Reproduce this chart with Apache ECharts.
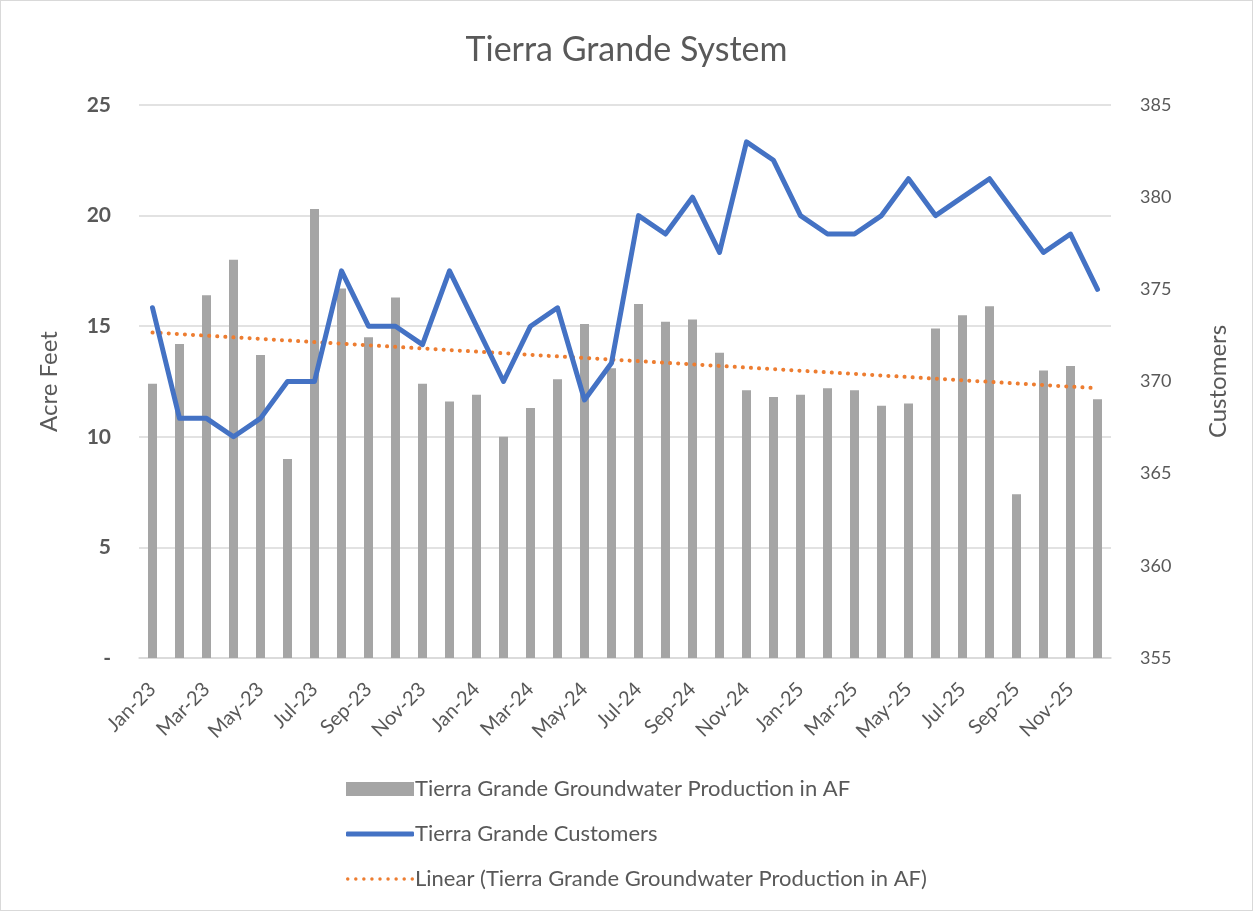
<!DOCTYPE html>
<html>
<head>
<meta charset="utf-8">
<script src="https://cdn.jsdelivr.net/npm/echarts@6/dist/echarts.min.js"></script>
<style>
  html, body { margin: 0; padding: 0; background: #fff; }
  #chart { width: 1251px; height: 909px; border: 1px solid #d9d9d9; }
</style>
</head>
<body>
<div id="chart"></div>
<script>
// months Jan-23 .. Dec-25
var months = [
  'Jan-23','Feb-23','Mar-23','Apr-23','May-23','Jun-23','Jul-23','Aug-23','Sep-23','Oct-23','Nov-23','Dec-23',
  'Jan-24','Feb-24','Mar-24','Apr-24','May-24','Jun-24','Jul-24','Aug-24','Sep-24','Oct-24','Nov-24','Dec-24',
  'Jan-25','Feb-25','Mar-25','Apr-25','May-25','Jun-25','Jul-25','Aug-25','Sep-25','Oct-25','Nov-25','Dec-25'
];

// groundwater production (acre feet)
var production = [
  12.4, 14.2, 16.4, 18.0, 13.7, 9.0, 20.3, 16.7, 14.5, 16.3, 12.4, 11.6,
  11.9, 10.0, 11.3, 12.6, 15.1, 13.1, 16.0, 15.2, 15.3, 13.8, 12.1, 11.8,
  11.9, 12.2, 12.1, 11.4, 11.5, 14.9, 15.5, 15.9, 7.4, 13.0, 13.2, 11.7
];

// customers
var customers = [
  374, 368, 368, 367, 368, 370, 370, 376, 373, 373, 372, 376,
  373, 370, 373, 374, 369, 371, 379, 378, 380, 377, 383, 382,
  379, 378, 378, 379, 381, 379, 380, 381, 379, 377, 378, 375
];

var leftTicks = [0, 5, 10, 15, 20, 25];
var rightTicks = [355, 360, 365, 370, 375, 380, 385];

var barName = 'Tierra Grande Groundwater Production in AF';
var custName = 'Tierra Grande Customers';
var trendName = 'Linear (Tierra Grande Groundwater Production in AF)';

// least squares trend of production, like Excel's linear trendline
function linearTrend(vals) {
  var n = vals.length, sx = 0, sy = 0, sxy = 0, sxx = 0;
  for (var i = 0; i < n; i++) {
    var x = i + 1;
    sx += x; sy += vals[i]; sxy += x * vals[i]; sxx += x * x;
  }
  var slope = (n * sxy - sx * sy) / (n * sxx - sx * sx);
  var icpt = (sy - slope * sx) / n;
  return vals.map(function (v, i) { return +(icpt + slope * (i + 1)).toFixed(3); });
}
var trend = linearTrend(production);

// dotted legend icon: a row of small dots
function dotsIcon(count, step, r) {
  var p = '';
  for (var i = 0; i < count; i++) {
    var cx = r + i * step;
    p += 'M' + (cx + r) + ',' + r + ' A' + r + ',' + r + ' 0 1 1 ' + (cx - r) + ',' + r +
         ' A' + r + ',' + r + ' 0 1 1 ' + (cx + r) + ',' + r + ' Z ';
  }
  return 'path://' + p;
}

var textColor = '#595959';
var fontFam = 'Lato, "Open Sans", sans-serif';
var legendText = { fontFamily: fontFam, fontSize: 22, color: textColor, padding: [0, 0, 0, -4] };

var option = {
  animation: false,
  textStyle: { fontFamily: fontFam, color: textColor },
  title: {
    text: 'Tierra Grande System',
    left: 'center',
    top: 27,
    textStyle: { fontFamily: fontFam, fontSize: 34, fontWeight: 'normal', color: textColor }
  },
  legend: [
    {
      left: 340, top: 772, height: 20, itemWidth: 68, itemHeight: 14,
      textStyle: legendText,
      data: [{ name: barName, icon: 'rect', itemStyle: { color: '#a5a5a5' } }]
    },
    {
      left: 340, top: 817, height: 20, itemWidth: 68, itemHeight: 5,
      textStyle: legendText,
      data: [{ name: custName, icon: 'roundRect', itemStyle: { color: '#4472c4' } }]
    },
    {
      left: 340, top: 862, height: 20, itemWidth: 68, itemHeight: 3.5,
      textStyle: legendText,
      data: [{ name: trendName, icon: dotsIcon(9, 8.1, 1.75), itemStyle: { color: '#ed7d31' } }]
    }
  ],
  grid: { left: 138, right: 141, top: 104, bottom: 252 },
  xAxis: {
    type: 'category',
    data: months,
    boundaryGap: true,
    axisLine: { lineStyle: { color: '#d9d9d9', width: 1.5 } },
    axisTick: { interval: 1, length: 6, lineStyle: { color: '#d9d9d9', width: 1.5 } },
    axisLabel: { interval: 1, rotate: 45, fontSize: 20, color: textColor, fontFamily: fontFam, margin: 28 }
  },
  yAxis: [
    {
      type: 'value',
      min: leftTicks[0],
      max: leftTicks[leftTicks.length - 1],
      interval: 5,
      name: 'Acre Feet',
      nameLocation: 'middle',
      nameGap: 78,
      nameTextStyle: { fontSize: 24, color: textColor, fontFamily: fontFam },
      axisLine: { show: false },
      axisTick: { show: false },
      axisLabel: {
        fontSize: 21, fontWeight: 'bold', color: textColor, margin: 28,
        formatter: function (v) { return v === 0 ? '-' : v; }
      },
      splitLine: { lineStyle: { color: '#d9d9d9', width: 1.5 } }
    },
    {
      type: 'value',
      min: rightTicks[0],
      max: rightTicks[rightTicks.length - 1],
      interval: 5,
      name: 'Customers',
      nameLocation: 'middle',
      nameGap: 95,
      nameTextStyle: { fontSize: 24, color: textColor, fontFamily: fontFam },
      axisLine: { show: false },
      axisTick: { show: false },
      axisLabel: { fontSize: 18, color: textColor, margin: 29 },
      splitLine: { show: false }
    }
  ],
  series: [
    {
      name: barName,
      type: 'bar',
      data: production,
      barWidth: 9,
      itemStyle: { color: '#a5a5a5' },
      z: 2
    },
    {
      name: custName,
      type: 'line',
      yAxisIndex: 1,
      data: customers,
      showSymbol: false,
      symbol: 'none',
      lineStyle: { color: '#4472c4', width: 5, cap: 'round', join: 'round' },
      itemStyle: { color: '#4472c4' },
      z: 4
    },
    {
      name: trendName,
      type: 'line',
      data: trend,
      showSymbol: false,
      symbol: 'none',
      lineStyle: { color: '#ed7d31', width: 4, type: [0.1, 8], cap: 'round' },
      itemStyle: { color: '#ed7d31' },
      z: 3
    }
  ]
};

var chart = echarts.init(document.getElementById('chart'));
chart.setOption(option);
</script>
</body>
</html>
